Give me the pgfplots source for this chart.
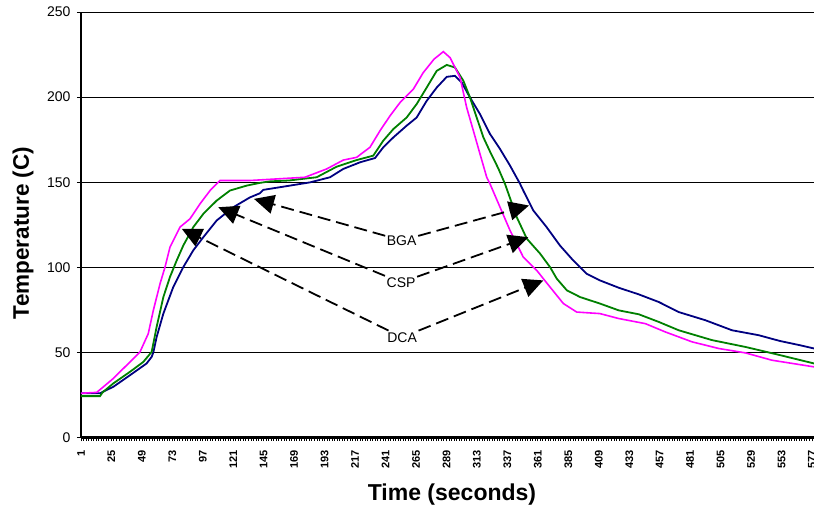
\documentclass[border=0pt]{standalone}
\usepackage{fontspec}
\setmainfont{Liberation Sans}
\usepackage{pgfplots}
\pgfplotsset{compat=1.18}
\usetikzlibrary{arrows.meta}

\definecolor{bgaline}{HTML}{000080}
\definecolor{cspline}{HTML}{008000}
\definecolor{dcaline}{HTML}{FF00FF}

\begin{document}
\begin{tikzpicture}
\useasboundingbox (-81pt,-70.5pt) rectangle (733pt,437.5pt);
\begin{axis}[
  at={(0,0)}, anchor=south west,
  scale only axis, width=733pt, height=425.5pt,
  xmin=1, xmax=578.6, ymin=0, ymax=250,
  axis x line=bottom, axis y line=left,
  axis line style={-, line width=1.6pt},
  x axis line style={line width=2.4pt},
  xtick={1,25,...,577}, ytick={0,50,...,250},
  minor x tick num=11,
  tick align=outside,
  major tick length=4pt, minor tick length=3.5pt,
  tick style={black, line width=0.8pt},
  minor x tick style={line width=1pt},
  ymajorgrids, grid style={black, line width=0.8pt},
  /pgf/number format/assume math mode=true,
  yticklabel style={font=\fontsize{14}{14}\selectfont, xshift=-3pt},
  xticklabel style={font=\fontsize{11}{11}\selectfont\bfseries, rotate=90, anchor=east, xshift=-5pt},
]
% BGA
\addplot[bgaline, line width=1.8pt] coordinates {
(1,26) (16,26) (20,27.5) (26.5,29.8) (39.6,36.6) (52.7,43.5) (56.7,47.4) (58,50)
(60.6,59) (65.9,72.8) (73.7,88.4) (81.6,100.1) (89.5,110) (97.4,117.7) (107.9,127.5)
(121,135.3) (134.2,141.1) (142,143.5) (144.7,145.5) (165.7,148) (181.5,149.9)
(197.2,152.9) (207.7,157.8) (220.9,161.7) (232.7,164.2) (239.2,170.5) (247.1,176.3)
(257.6,183.2) (265.5,188) (273.4,197.8) (281.3,205.6) (289.2,211.9) (295.7,212.5)
(301,208.6) (307.5,199.8) (315.4,190) (323.3,178.3) (331.2,169.5) (339.1,159.7)
(347,149) (349.5,145.1) (357.4,133.4) (367.9,123.6) (378.4,112.8) (388.9,104)
(399.4,96.2) (409.9,92.3) (424.7,88) (440.5,84.1) (456.3,79.6) (472,73.7) (493,68.9)
(514,63) (535,60.1) (551.8,56.7) (567.6,54.2) (578.6,52.3)};
% CSP
\addplot[cspline, line width=1.8pt] coordinates {
(1,24.3) (16,24.3) (18,26.5) (26.5,31.8) (39.6,38.6) (50.1,44.4) (56.7,50.3)
(60.6,65) (65.9,82.5) (71.1,94.3) (76.4,104) (81.6,112.8) (89.5,123.6) (97.4,131.4)
(107.9,139.2) (118.4,145.1) (131.6,148) (142,149.6) (150,150.5) (165,151) (176.2,152)
(186.7,152.9) (202.4,159.1) (218.2,163) (231.3,165.6) (239.2,174.4) (247.1,181.2)
(257.6,188) (265.5,195.9) (273.4,205.6) (281.3,215.4) (289.2,218.9) (295.7,217.4)
(302.3,209.6) (307.5,199.8) (312.8,188) (318.1,176.3) (323.3,168) (329.9,158)
(335.1,149) (344.4,129.4) (352.3,116.8) (362.8,108) (370.6,100.1) (375.9,93.3)
(383.8,86.5) (394.3,82.5) (409.9,78.7) (424.7,74.7) (440.5,72.4) (456.3,67.9)
(472,63) (498.3,57.2) (524.6,53.2) (551.8,48.4) (578.6,43.5)};
% DCA
\addplot[dcaline, line width=1.6pt] coordinates {
(1,26) (13.4,26.5) (26.5,34.7) (39.6,44.4) (47.5,50.3) (54,61) (58,74.7) (63.3,90.4)
(67.2,100.1) (71.1,111.8) (79,123.6) (86.9,128.5) (94.8,137.3) (102.7,145.1)
(110.5,151) (134.2,151) (177.5,152.9) (194.6,157.8) (207.7,163) (218.2,164.6)
(228.7,170.5) (236.6,180.2) (244.5,189) (252.4,196.8) (262.9,204.7) (270.7,214.4)
(279.2,222.3) (286.5,226.7) (291.8,223.2) (299.7,211.5) (304.9,193.9) (310.2,180.2)
(315.4,166.6) (320.7,152.9) (323.3,149) (331.2,135.3) (339.1,121.6) (349.5,106)
(360.1,98.2) (370.6,88.4) (381.1,78.7) (391.6,73.7) (409.9,72.8) (424.7,69.9)
(445.7,66.9) (461.5,62) (482.5,56.2) (503.5,52.3) (524.6,49.7) (545.5,45.4)
(578.6,41.5)};

\node[fill=white, inner sep=1.5pt, font=\fontsize{14}{14}\selectfont] (bga) at (axis cs:253.7,115.8) {BGA};
\node[fill=white, inner sep=1.5pt, font=\fontsize{14}{14}\selectfont] (csp) at (axis cs:253.2,91.1) {CSP};
\node[fill=white, inner sep=1.5pt, font=\fontsize{14}{14}\selectfont] (dca) at (axis cs:254,58.9) {DCA};
\tikzset{callout/.style={black, line width=1.8pt, dash pattern=on 13pt off 6pt,
  -{Triangle[length=20pt,width=19pt]}}}
\draw[callout] (bga) -- (axis cs:137.3,140.2);
\draw[callout] (bga) -- (axis cs:354,136.3);
\draw[callout] (csp) -- (axis cs:109.2,135.3);
\draw[callout] (csp) -- (axis cs:353.5,117.7);
\draw[callout] (dca) -- (axis cs:80.4,122.6);
\draw[callout] (dca) -- (axis cs:365.3,92.3);
\end{axis}
\node[font=\fontsize{23}{23}\selectfont\bfseries] at (371pt,-57.5pt) {Time (seconds)};
\node[rotate=90, font=\fontsize{22.5}{22.5}\selectfont\bfseries] at (-58pt,204.5pt) {Temperature (C)};
\end{tikzpicture}
\end{document}
